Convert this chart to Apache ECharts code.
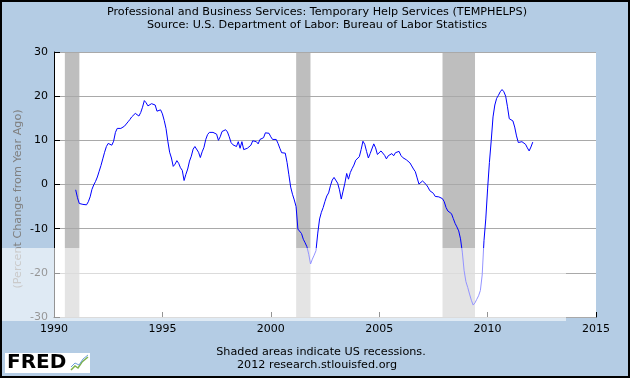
<!DOCTYPE html>
<html>
<head>
<meta charset="utf-8">
<script src="https://cdn.jsdelivr.net/npm/echarts@6/dist/echarts.min.js"></script>
<style>
html,body{margin:0;padding:0;background:#B4CCE4;}
#chart{width:630px;height:378px;}
</style>
</head>
<body>
<div id="chart"></div>
<script>
// ---- data ----
const titleLine1 = 'Professional and Business Services: Temporary Help Services (TEMPHELPS)';
const titleLine2 = 'Source: U.S. Department of Labor: Bureau of Labor Statistics';
const yAxisName = '(Percent Change from Year Ago)';
const footLine1 = 'Shaded areas indicate US recessions.';
const footLine2 = '2012 research.stlouisfed.org';

const startYear = 1991; // first monthly observation: Jan 1991
const xTicks = [1990, 1995, 2000, 2005, 2010, 2015];
const yTicks = [-30, -20, -10, 0, 10, 20, 30];

// percent change from year ago, monthly, Jan 1991 .. Feb 2012
const v1991 = [-1.2, -3.0, -4.3, -4.4, -4.5, -4.5, -4.6, -3.9, -2.8, -1.1, -0.1, 0.7];
const v1992 = [1.7, 3.0, 4.3, 5.8, 7.3, 8.6, 9.3, 9.1, 8.9, 9.8, 11.8, 12.7];
const v1993 = [12.7, 12.7, 12.7, 13.2, 13.7, 14.2, 14.7, 15.3, 15.7, 16.1, 15.8, 15.5];
const v1994 = [16.3, 17.5, 19.0, 18.5, 17.8, 18.0, 18.3, 18.0, 18.0, 16.6, 16.7, 16.9];
const v1995 = [16.0, 14.5, 12.7, 9.8, 7.3, 6.0, 4.1, 4.6, 5.4, 4.8, 3.8, 3.2];
const v1996 = [0.9, 2.3, 3.5, 5.3, 6.4, 8.0, 8.6, 8.7, 7.3, 6.1, 7.4, 8.4];
const v1997 = [10.2, 11.3, 11.8, 11.9, 11.8, 11.7, 11.4, 10.0, 10.8, 12.0, 12.3, 12.4];
const v1998 = [11.9, 10.8, 9.5, 9.0, 8.6, 8.6, 9.7, 8.2, 9.7, 7.9, 8.2, 8.2];
const v1999 = [8.3, 8.9, 9.9, 10.0, 9.7, 9.2, 10.2, 10.3, 10.6, 11.7, 11.7, 11.6];
const v2000 = [10.8, 10.2, 10.2, 10.2, 9.3, 8.2, 7.2, 6.9, 7.1, 5.0, 2.2, -0.6];
const v2001 = [-2.2, -3.5, -5.0, -10.1, -10.3, -11.1, -12.4, -13.2, -14.1, -15.8, -18.0, -16.9];
const v2002 = [-16.0, -15.0, -11.0, -7.8, -6.3, -5.2, -3.8, -2.6, -1.9, -0.3, 1.0, 1.6];
const v2003 = [1.5, 0.3, -1.2, -3.3, -1.5, 0.3, 2.5, 1.2, 2.7, 3.6, 4.4, 5.5];
const v2004 = [5.3, 6.3, 7.9, 9.8, 9.1, 7.5, 6.0, 7.0, 7.4, 9.2, 8.3, 6.8];
const v2005 = [7.0, 7.6, 7.7, 6.6, 5.8, 6.5, 6.6, 7.0, 6.5, 7.2, 7.6, 7.5];
const v2006 = [6.6, 6.1, 5.8, 5.6, 5.3, 4.9, 4.2, 3.5, 2.9, 1.5, 0.1, 0.4];
const v2007 = [0.8, 0.6, 0.0, -0.6, -1.4, -1.7, -2.0, -2.7, -3.0, -2.8, -2.8, -3.2];
const v2008 = [-3.9, -5.2, -6.0, -6.3, -6.6, -7.7, -8.8, -9.6, -10.5, -12.3, -15.3, -19.5];
const v2009 = [-22.0, -23.3, -24.8, -26.2, -27.3, -26.8, -26.0, -25.2, -24.0, -20.5, -12.7, -7.8];
const v2010 = [-1.0, 5.0, 9.9, 15.3, 18.0, 19.5, 20.2, 21.0, 21.5, 21.0, 20.0, 17.6];
const v2011 = [14.9, 14.8, 14.4, 13.0, 11.0, 9.5, 9.5, 9.7, 9.6, 9.1, 8.3, 7.6];
const v2012 = [8.5, 9.6];

// recession periods (decimal years)
const recessions = [[1990.5, 1991.17], [2001.17, 2001.83], [2007.92, 2009.42]];

// ---- build ----
const allValues = [].concat(v1991, v1992, v1993, v1994, v1995, v1996, v1997, v1998, v1999,
  v2000, v2001, v2002, v2003, v2004, v2005, v2006, v2007, v2008, v2009, v2010, v2011, v2012);
const seriesData = allValues.map((v, i) => [startYear + i / 12, v]);

const FONT = 'DejaVu Sans';
const TXT = '11.2px "DejaVu Sans"';
const chart = echarts.init(document.getElementById('chart'), null, {renderer: 'canvas'});

chart.setOption({
  backgroundColor: '#B4CCE4',
  animation: false,
  grid: {left: 54, right: 34, top: 52, bottom: 61, show: true, backgroundColor: '#FFFFFF', borderWidth: 0},
  xAxis: {
    type: 'value', min: xTicks[0], max: xTicks[xTicks.length - 1], interval: 5,
    axisLine: {show: true, onZero: false, lineStyle: {color: '#000', width: 1}},
    axisTick: {show: true, inside: true, length: 5, lineStyle: {color: '#000'}},
    axisLabel: {color: '#000', fontFamily: FONT, fontSize: 11, margin: 7,
      formatter: v => String(v)},
    splitLine: {show: false}
  },
  yAxis: {
    type: 'value', min: yTicks[0], max: yTicks[yTicks.length - 1], interval: 10,
    axisLine: {show: true, onZero: false, lineStyle: {color: '#000', width: 1}},
    axisTick: {show: true, inside: true, length: 6, lineStyle: {color: '#000'}},
    axisLabel: {color: '#000', fontFamily: FONT, fontSize: 11, margin: 6},
    splitLine: {show: true, lineStyle: {color: '#A9A9A9', width: 1}},
    z: 3
  },
  series: [
    {
      type: 'line', data: [], z: 1, silent: true,
      markArea: {
        silent: true,
        itemStyle: {color: '#BEBEBE'},
        data: recessions.map(r => [{xAxis: r[0]}, {xAxis: r[1]}])
      }
    },
    {
      type: 'line', data: seriesData, showSymbol: false, z: 5,
      lineStyle: {color: '#0000FF', width: 1},
      itemStyle: {color: '#0000FF'}
    }
  ],
  graphic: [
    {type: 'text', x: 317, y: 12, style: {text: titleLine1, fill: '#000', font: TXT, align: 'center', verticalAlign: 'middle'}},
    {type: 'text', x: 317, y: 25, style: {text: titleLine2, fill: '#000', font: TXT, align: 'center', verticalAlign: 'middle'}},
    {type: 'text', x: 18, y: 199, rotation: Math.PI / 2,
      style: {text: yAxisName, fill: '#808080', font: TXT, align: 'center', verticalAlign: 'middle'}},
    {type: 'text', x: 321, y: 352, style: {text: footLine1, fill: '#000', font: TXT, align: 'center', verticalAlign: 'middle'}},
    {type: 'text', x: 317, y: 365, style: {text: footLine2, fill: '#000', font: TXT, align: 'center', verticalAlign: 'middle'}},
    // translucent watermark band
    {type: 'rect', z: 100, shape: {x: 1, y: 248, width: 565, height: 73}, style: {fill: 'rgba(255,255,255,0.58)'}, silent: true},
    // FRED logo
    {type: 'rect', z: 101, shape: {x: 5, y: 353, width: 85, height: 20}, style: {fill: '#FFFFFF'}},
    {type: 'text', z: 102, x: 7, y: 363, style: {text: 'FRED', fill: '#000', font: 'bold 20px "DejaVu Sans"', verticalAlign: 'middle'}},
    {type: 'polyline', z: 102, shape: {points: [[71, 370], [75, 366], [78, 368], [82, 362], [88, 357]]}, style: {stroke: '#7DB24A', lineWidth: 1.5, fill: null}},
    {type: 'polyline', z: 102, shape: {points: [[71, 367], [75, 363], [79, 365], [83, 359], [88, 355]]}, style: {stroke: '#6F9FD8', lineWidth: 1, fill: null}},
    // outer frame
    {type: 'rect', z: 103, shape: {x: 1, y: 1, width: 628, height: 376}, style: {fill: null, stroke: '#000', lineWidth: 2}, silent: true}
  ]
});
</script>
</body>
</html>
